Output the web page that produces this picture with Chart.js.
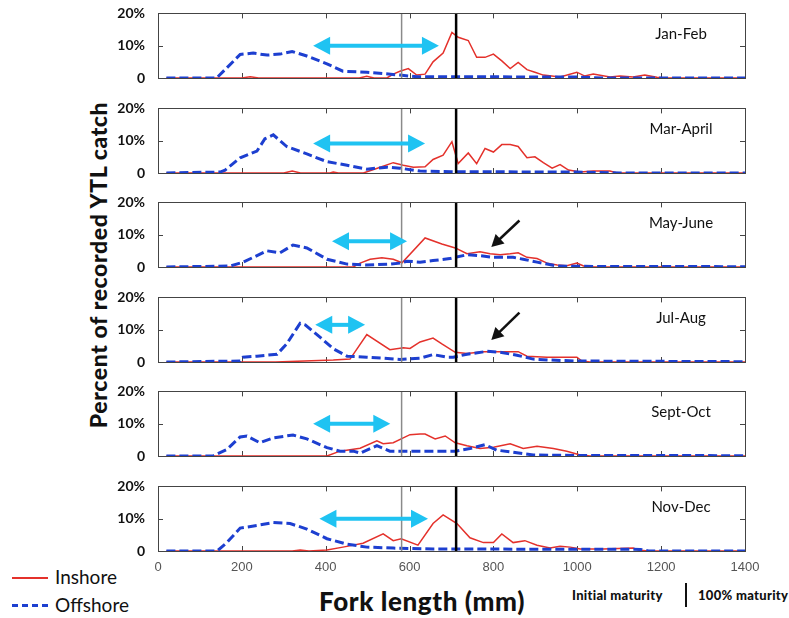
<!DOCTYPE html>
<html>
<head>
<meta charset="utf-8">
<script src="https://cdn.jsdelivr.net/npm/chart.js@4.4.1/dist/chart.umd.min.js"></script>
<style>
  body { margin: 0; background: #fff; }
  #fig { position: relative; width: 789px; height: 618px; overflow: hidden; font-family: Lato, "Open Sans", sans-serif; }
  #fig canvas { position: absolute; left: 0; }
  .txt { position: absolute; white-space: nowrap; color: #111; }
</style>
</head>
<body>
<div id="fig">
  <div class="txt" id="ytitle" style="left:98px; top:265px; font-weight:900; font-size:23px; letter-spacing:0.6px; transform: translate(-50%,-50%) rotate(-90deg);">Percent of recorded YTL catch</div>
  <div class="txt" style="left:422px; top:601px; font-weight:900; font-size:26px; letter-spacing:0.6px; transform: translate(-50%,-50%);">Fork length (mm)</div>
  <div class="txt" style="left:12px; top:577px; width:36px; border-top:2px solid #e4312b;"></div>
  <div class="txt" style="left:55px; top:565px; font-size:19px;">Inshore</div>
  <div class="txt" style="left:12px; top:604px; width:36px; border-top:3px dashed #1d3fd0;"></div>
  <div class="txt" style="left:55px; top:593px; font-size:19px;">Offshore</div>
  <div class="txt" style="left:572px; top:587px; font-size:13px; font-weight:900; letter-spacing:0.3px;">Initial maturity</div>
  <div class="txt" style="left:685px; top:583px; height:24px; border-left:2px solid #111;"></div>
  <div class="txt" style="left:698px; top:587px; font-size:13px; font-weight:900; letter-spacing:0.3px;">100% maturity</div>
</div>
<script>
// periods (one panel each)
const periods = ['Jan-Feb', 'Mar-April', 'May-June', 'Jul-Aug', 'Sept-Oct', 'Nov-Dec'];

// [fork length mm, percent]
const janFebOffshore = [[20,0],[140,0],[196,7.3],[227,7.7],[260,7.1],[291,7.4],[320,8.2],[355,6.8],[403,4.4],[441,2.1],[498,1.8],[537,1.4],[577,0.9],[617,0.4],[660,0.4],[1000,0.3],[1060,0],[1400,0]];
const janFebInshore = [[20,0],[200,0],[220,0.4],[240,0],[480,0],[498,0.5],[515,0],[546,0],[561,1.2],[577,2.1],[597,2.9],[617,0.9],[637,1.2],[656,5.0],[680,7.7],[701,14.1],[716,12.6],[740,11.6],[760,6.4],[780,6.4],[800,7.4],[820,5.3],[840,2.9],[859,4.8],[880,2.6],[899,1.8],[919,0.9],[959,0.3],[999,1.8],[1018,0.6],[1038,1.2],[1078,0.3],[1102,0.6],[1133,0.3],[1161,0.9],[1190,0.2],[1210,0],[1400,0]];

const marAprOffshore = [[20,0],[148,0.3],[160,0.9],[196,4.7],[236,6.8],[255,10.6],[275,11.8],[307,8.2],[355,5.9],[403,3.5],[451,2.4],[498,1.2],[546,1.8],[577,1.5],[625,0.6],[700,0.4],[1000,0.3],[1100,0],[1400,0]];
const marAprInshore = [[20,0],[300,0],[320,0.6],[340,0],[410,0],[418,0.3],[430,0],[490,0],[530,1.8],[561,3.2],[585,2.4],[609,1.8],[637,1.9],[656,4.2],[680,5.5],[701,9.7],[716,2.9],[740,6.2],[760,2.9],[780,7.6],[800,6.5],[820,8.8],[840,8.8],[859,8.2],[880,4.7],[899,5.0],[919,3.2],[940,1.5],[959,2.6],[979,0.9],[1007,0.3],[1038,0.6],[1078,0.6],[1095,0],[1400,0]];

const mayJunOffshore = [[20,0],[172,0.3],[203,1.5],[260,5.0],[291,4.4],[322,6.8],[355,5.9],[403,2.4],[451,0.9],[498,0.6],[553,0.9],[577,1.2],[594,1.8],[625,1.5],[656,2.0],[696,2.6],[709,3.0],[737,3.8],[768,3.5],[800,3.0],[847,3.0],[871,2.4],[904,1.5],[928,0.9],[952,0.3],[1000,0.2],[1400,0.1]];
const mayJunInshore = [[20,0],[466,0],[482,1.2],[506,2.4],[534,2.9],[561,2.4],[582,1.3],[637,9.0],[677,7.1],[709,5.9],[737,4.1],[768,4.7],[792,4.1],[816,3.8],[840,4.1],[859,4.4],[880,3.0],[904,2.6],[928,1.2],[952,0.6],[975,0.4],[999,1.2],[1015,0.3],[1040,0],[1400,0]];

const julAugOffshore = [[20,0],[196,0.3],[203,1.5],[236,1.8],[284,2.4],[307,5.6],[339,12.0],[351,11.5],[387,7.6],[418,4.1],[451,1.8],[498,1.5],[537,1.2],[577,0.8],[625,1.2],[656,2.3],[689,1.5],[704,1.5],[737,2.4],[785,3.3],[816,3.0],[856,2.1],[895,0.9],[935,0.6],[999,0.3],[1400,0.1]];
const julAugInshore = [[20,0],[280,0],[418,0.6],[458,0.9],[498,8.5],[553,3.8],[585,4.4],[601,4.2],[625,6.2],[656,7.4],[677,5.6],[709,3.0],[737,2.6],[776,3.2],[816,3.2],[859,3.2],[880,1.8],[928,1.5],[999,1.5],[1011,0.3],[1030,0],[1400,0]];

const sepOctOffshore = [[20,0],[131,0],[164,2.0],[196,5.9],[212,6.2],[243,4.1],[275,5.6],[322,6.5],[355,5.3],[403,2.6],[434,1.5],[466,1.5],[482,0.9],[522,3.2],[553,1.5],[594,1.5],[656,1.5],[709,1.5],[744,2.3],[780,3.5],[808,1.8],[847,1.2],[895,0.3],[950,0.2],[1400,0.1]];
const sepOctInshore = [[20,0],[403,0],[434,1.5],[482,2.4],[522,4.7],[537,3.8],[561,4.1],[585,5.6],[601,6.6],[625,6.8],[637,6.8],[661,5.3],[685,6.2],[709,4.1],[737,3.2],[768,2.3],[800,2.7],[840,3.8],[871,2.3],[904,3.0],[943,2.3],[975,1.5],[1007,0.3],[1030,0],[1400,0]];

const novDecOffshore = [[20,0],[141,0],[164,2.6],[196,7.1],[236,7.9],[275,8.8],[315,8.5],[355,6.8],[403,3.8],[451,2.1],[498,1.2],[561,0.9],[656,0.6],[760,0.6],[1150,0.5],[1170,0],[1400,0]];
const novDecInshore = [[20,0],[320,0],[339,0.3],[360,0],[403,0.3],[441,1.2],[489,2.4],[537,5.3],[561,3.2],[580,3.8],[620,1.8],[656,8.5],[680,11.2],[713,8.5],[744,4.1],[776,2.6],[800,2.6],[820,5.3],[847,2.6],[875,3.2],[904,1.8],[935,0.9],[959,1.5],[983,1.2],[1007,0.6],[1062,0.6],[1133,0.9],[1150,0.2],[1170,0],[1400,0]];

const offshore = [janFebOffshore, marAprOffshore, mayJunOffshore, julAugOffshore, sepOctOffshore, novDecOffshore];
const inshore = [janFebInshore, marAprInshore, mayJunInshore, julAugInshore, sepOctInshore, novDecInshore];

// maturity lines (mm): initial, 100%
const maturity = [581, 711];

// cyan double arrows: [from mm, to mm, level %]
const spanArrows = [[370, 670, 10], [370, 637, 9.1], [415, 594, 8], [375, 494, 11.5], [370, 554, 10], [385, 644, 10]];
// black pointer arrows: [x0, y0, x1, y1] (tail -> head)
const pointerArrows = [null, null, [862, 14.4, 795, 6.2], [862, 15.3, 795, 6.8], null, null];

const xTicks = [0, 200, 400, 600, 800, 1000, 1200, 1400];
const panelTops = [10, 105, 199, 294, 388, 483];

function arrowHead(ctx, x0, y0, x1, y1, len, half) {
  const a = Math.atan2(y1 - y0, x1 - x0);
  ctx.beginPath();
  ctx.moveTo(x1, y1);
  ctx.lineTo(x1 - len * Math.cos(a) + half * Math.sin(a), y1 - len * Math.sin(a) - half * Math.cos(a));
  ctx.lineTo(x1 - len * Math.cos(a) - half * Math.sin(a), y1 - len * Math.sin(a) + half * Math.cos(a));
  ctx.closePath();
  ctx.fill();
}

const panelPlugin = {
  id: 'panel',
  beforeDatasetsDraw(chart) {
    const { ctx, chartArea: a, scales: { x, y } } = chart;
    ctx.save();
    ctx.strokeStyle = '#444';
    ctx.lineWidth = 1;
    ctx.beginPath();
    xTicks.slice(1, -1).forEach(v => {
      const px = Math.round(x.getPixelForValue(v)) + 0.5;
      ctx.moveTo(px, a.top); ctx.lineTo(px, a.top + 5);
      ctx.moveTo(px, a.bottom); ctx.lineTo(px, a.bottom - 5);
    });
    const py = Math.round(y.getPixelForValue(10)) + 0.5;
    ctx.moveTo(a.left, py); ctx.lineTo(a.left + 5, py);
    ctx.moveTo(a.right, py); ctx.lineTo(a.right - 5, py);
    ctx.stroke();
    ctx.restore();
  },
  afterDatasetsDraw(chart, args, opts) {
    const { ctx, chartArea: a, scales: { x, y } } = chart;
    const i = opts.index;
    ctx.save();
    // maturity lines
    ctx.strokeStyle = '#8a8a8a';
    ctx.lineWidth = 1.5;
    ctx.beginPath();
    ctx.moveTo(x.getPixelForValue(maturity[0]), a.top);
    ctx.lineTo(x.getPixelForValue(maturity[0]), a.bottom);
    ctx.stroke();
    ctx.strokeStyle = '#000';
    ctx.lineWidth = 2.5;
    ctx.beginPath();
    ctx.moveTo(x.getPixelForValue(maturity[1]), a.top);
    ctx.lineTo(x.getPixelForValue(maturity[1]), a.bottom);
    ctx.stroke();
    // frame
    ctx.strokeStyle = '#444';
    ctx.lineWidth = 1;
    ctx.strokeRect(Math.round(a.left) + 0.5, Math.round(a.top) + 0.5, Math.round(a.right - a.left), Math.round(a.bottom - a.top));
    // cyan span arrow
    const s = spanArrows[i];
    const x0 = x.getPixelForValue(s[0]), x1 = x.getPixelForValue(s[1]), yy = y.getPixelForValue(s[2]);
    ctx.strokeStyle = ctx.fillStyle = '#1fc3f2';
    ctx.lineWidth = 4;
    ctx.beginPath();
    ctx.moveTo(x0 + 12, yy); ctx.lineTo(x1 - 12, yy);
    ctx.stroke();
    arrowHead(ctx, x1, yy, x0, yy, 17, 9);
    arrowHead(ctx, x0, yy, x1, yy, 17, 9);
    // black pointer arrow
    const p = pointerArrows[i];
    if (p) {
      const ax = x.getPixelForValue(p[0]), ay = y.getPixelForValue(p[1]);
      const bx = x.getPixelForValue(p[2]), by = y.getPixelForValue(p[3]);
      ctx.strokeStyle = ctx.fillStyle = '#111';
      ctx.lineWidth = 2.5;
      const ang = Math.atan2(by - ay, bx - ax);
      ctx.beginPath();
      ctx.moveTo(ax, ay); ctx.lineTo(bx - 8 * Math.cos(ang), by - 8 * Math.sin(ang));
      ctx.stroke();
      arrowHead(ctx, ax, ay, bx, by, 12, 6.5);
    }
    // period label
    ctx.fillStyle = '#111';
    ctx.font = '15px Lato, "Open Sans", sans-serif';
    ctx.textAlign = 'center';
    ctx.textBaseline = 'middle';
    ctx.fillText(periods[i], a.right - 64, a.top + 21);
    ctx.restore();
  }
};

const fig = document.getElementById('fig');

periods.forEach((name, i) => {
  const last = i === periods.length - 1;
  const canvas = document.createElement('canvas');
  canvas.width = 789;
  canvas.height = 102;
  canvas.style.top = (panelTops[i] - 10) + 'px';
  fig.appendChild(canvas);

  new Chart(canvas.getContext('2d'), {
    type: 'line',
    data: {
      datasets: [
        {
          label: 'Offshore',
          data: offshore[i].map(p => ({ x: p[0], y: p[1] })),
          borderColor: '#1d3fd0',
          borderWidth: 3,
          borderDash: [9, 4],
          pointRadius: 0,
          tension: 0,
        },
        {
          label: 'Inshore',
          data: inshore[i].map(p => ({ x: p[0], y: p[1] })),
          borderColor: '#e4312b',
          borderWidth: 1.5,
          pointRadius: 0,
          tension: 0,
        },
      ],
    },
    options: {
      responsive: false,
      animation: false,
      devicePixelRatio: 1,
      layout: { padding: { left: 0, right: 44, top: 10, bottom: 0 } },
      plugins: {
        legend: { display: false },
        tooltip: { enabled: false },
        panel: { index: i },
      },
      scales: {
        x: {
          type: 'linear',
          min: 0,
          max: 1400,
          afterBuildTicks: axis => { axis.ticks = xTicks.map(v => ({ value: v })); },
          afterFit: axis => { axis.height = 24; },
          grid: { display: false },
          border: { display: false },
          ticks: {
            display: last,
            padding: 1,
            color: '#555',
            font: { family: '"Liberation Sans", Arial, sans-serif', size: 13 },
            maxRotation: 0,
            callback: v => String(v),
          },
        },
        y: {
          min: 0,
          max: 20,
          afterFit: axis => { axis.width = 158; },
          grid: { display: false },
          border: { display: false },
          ticks: {
            stepSize: 10,
            padding: 5,
            color: '#111',
            font: { family: 'Lato, "Open Sans", sans-serif', size: 14, weight: 'bold' },
            callback: v => (v === 0 ? '0' : v + '%'),
          },
        },
      },
    },
    plugins: [panelPlugin],
  });
});
</script>
</body>
</html>
